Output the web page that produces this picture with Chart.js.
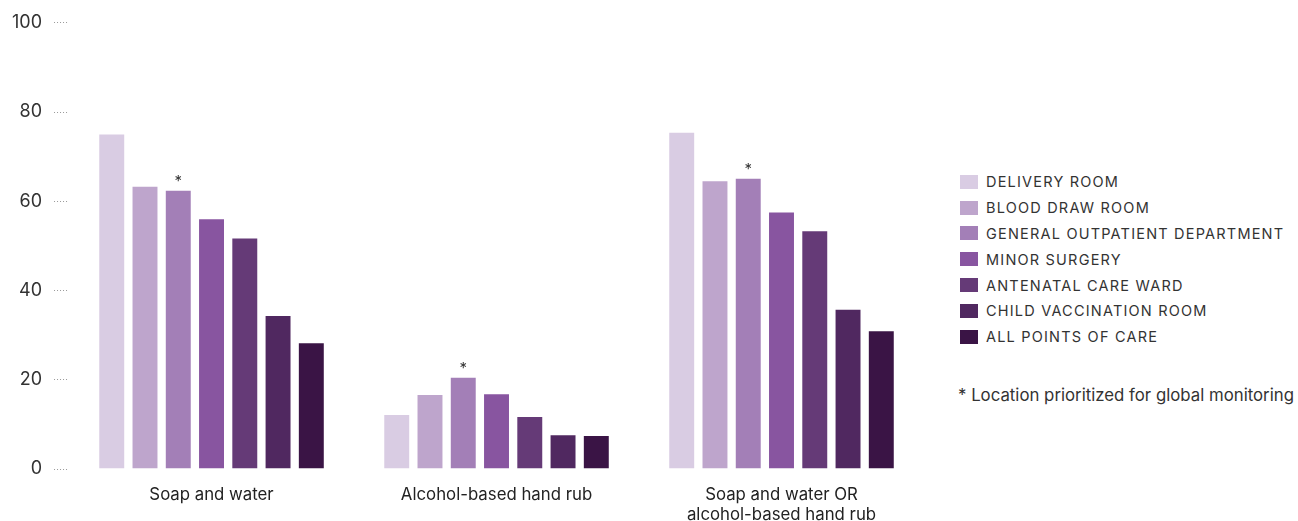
<!DOCTYPE html>
<html>
<head>
<meta charset="utf-8">
<script src="https://cdn.jsdelivr.net/npm/chart.js@4.4.1/dist/chart.umd.min.js"></script>
<style>
  body { margin: 0; background: #fff; font-family: Inter, "Noto Sans", sans-serif; }
  #wrap { position: absolute; left: 0; top: 0; width: 940px; height: 521px; }
  #legend { position: absolute; left: 960px; top: 169px; color: #333; }
  .item { display: flex; align-items: center; height: 25.8px; font-size: 14.5px; letter-spacing: 1.2px; }
  .box { width: 18px; height: 14px; margin-right: 8px; }
  #note { position: absolute; left: 958px; top: 385px; font-size: 16.8px; color: #333; white-space: nowrap; }
</style>
</head>
<body>
<div id="wrap"><canvas id="chart"></canvas></div>
<div id="legend"></div>
<div id="note">* Location prioritized for global monitoring</div>
<script>
// categories (x axis)
const categories = [['Soap and water'], ['Alcohol-based hand rub'], ['Soap and water OR', 'alcohol-based hand rub']];

// series = points of care, values in % for each category
const locations = ['DELIVERY ROOM', 'BLOOD DRAW ROOM', 'GENERAL OUTPATIENT DEPARTMENT', 'MINOR SURGERY',
  'ANTENATAL CARE WARD', 'CHILD VACCINATION ROOM', 'ALL POINTS OF CARE'];
const deliveryRoom = [75.2, 12.3, 75.6];
const bloodDrawRoom = [63.5, 16.8, 64.7];
const generalOutpatient = [62.6, 20.7, 65.3];
const minorSurgery = [56.2, 17.0, 57.7];
const antenatalCare = [51.9, 11.9, 53.5];
const childVaccination = [34.5, 7.8, 35.9];
const allPointsOfCare = [28.4, 7.6, 31.1];
const seriesValues = [deliveryRoom, bloodDrawRoom, generalOutpatient, minorSurgery, antenatalCare, childVaccination, allPointsOfCare];

const colors = ['#D9CCE3', '#BEA5CC', '#A37FB7', '#8855A0', '#653A77', '#502860', '#3A1445'];
const yTicks = [0, 20, 40, 60, 80, 100];
const starredSeries = 2; // general outpatient department

// asterisk above the prioritized location bars
const starPlugin = {
  id: 'star',
  afterDatasetsDraw(chart) {
    const ctx = chart.ctx;
    ctx.save();
    ctx.fillStyle = '#333';
    ctx.font = '15px Inter, "Noto Sans", sans-serif';
    ctx.textAlign = 'center';
    ctx.textBaseline = 'bottom';
    chart.getDatasetMeta(starredSeries).data.forEach(bar => {
      ctx.fillText('*', bar.x, bar.y - 1);
    });
    ctx.restore();
  }
};

const chart = new Chart(document.getElementById('chart'), {
  type: 'bar',
  data: {
    labels: categories,
    datasets: locations.map((name, i) => ({
      label: name,
      data: seriesValues[i],
      backgroundColor: colors[i],
      borderColor: 'rgba(255,255,255,0.35)',
      borderWidth: 1,
      barPercentage: 0.81,
      categoryPercentage: 0.817
    }))
  },
  options: {
    responsive: true,
    maintainAspectRatio: false,
    animation: false,
    layout: { padding: { top: 11, right: 16, left: 0, bottom: 0 } },
    plugins: { legend: { display: false }, tooltip: { enabled: false } },
    scales: {
      x: {
        grid: { display: false, drawTicks: false },
        border: { display: false },
        afterFit: axis => { axis.height = 52; },
        ticks: { color: '#222', padding: 16, font: { family: 'Inter', size: 16.8, lineHeight: 1.2 } }
      },
      y: {
        min: 0, max: 100,
        afterBuildTicks: axis => { axis.ticks = yTicks.map(v => ({ value: v })); },
        grid: { drawOnChartArea: false, tickLength: 15, color: '#999', tickBorderDash: [1, 2], tickWidth: 1 },
        border: { display: false },
        ticks: { color: '#333', padding: 12, font: { family: 'Inter', size: 18 } }
      }
    }
  },
  plugins: [starPlugin]
});

// legend built from the datasets
const legend = document.getElementById('legend');
locations.forEach((name, i) => {
  const row = document.createElement('div');
  row.className = 'item';
  row.innerHTML = '<span class="box" style="background:' + colors[i] + '"></span><span>' + name + '</span>';
  legend.appendChild(row);
});
</script>
</body>
</html>
